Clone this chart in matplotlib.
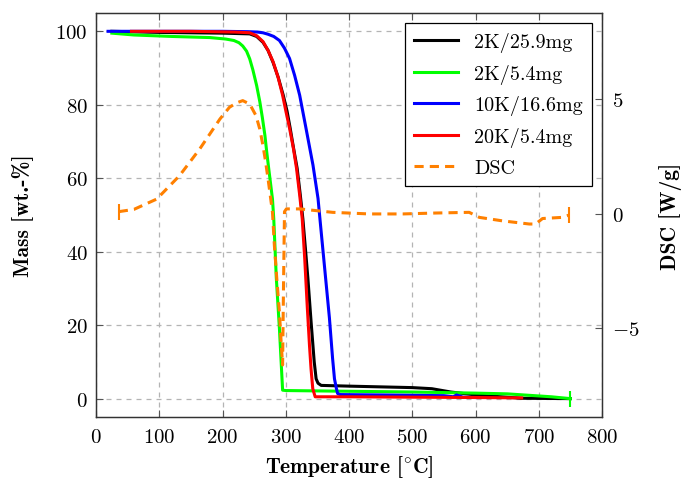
import matplotlib
matplotlib.use("Agg")
import matplotlib.pyplot as plt

plt.rcParams["font.family"] = "cmr10"
plt.rcParams["mathtext.fontset"] = "cm"
plt.rcParams["axes.formatter.use_mathtext"] = True
plt.rcParams["axes.unicode_minus"] = True

# ---------------------------------------------------------
# data (temperature in degC, mass in wt.-%)
# ---------------------------------------------------------
t_black = [25, 100, 200, 222, 243, 254, 264, 272, 280, 288, 296, 302, 307, 312, 318, 323, 327, 331, 335,
           340, 345, 348, 351, 356, 400, 450, 500, 531, 561, 600, 673, 750]
m_black = [100, 99.7, 99.5, 99.4, 99.3, 98.6, 97.0, 94.8, 91.5, 87.5, 82.6, 78.3, 73.6, 68.5, 62.7, 55.4,
           49, 41, 32.7, 21, 10, 5.4, 4.2, 3.6, 3.4, 3.2, 3.0, 2.7, 1.8, 1.0, 0.1, 0.0]

t_green = [25, 60, 120, 180, 205, 218, 226, 232, 238, 243, 248, 254, 259, 263, 267, 270, 273, 276, 279, 281,
           285, 290, 295, 300, 400, 500, 600, 650, 720, 750]
m_green = [99.5, 99.0, 98.6, 98.3, 97.9, 97.5, 96.9, 96.0, 94.6, 92.5, 89.5, 85.2, 80.8, 76.5, 71.7, 67,
           62.7, 58.5, 54.3, 49, 33, 19, 2.3, 2.2, 2.0, 1.8, 1.5, 1.3, 0.5, 0.0]

t_blue = [19, 100, 200, 240, 255, 264, 272, 281, 290, 298, 306, 314, 322, 332, 343, 351, 354, 359, 364,
          369, 374, 377, 380, 382, 386, 450, 550, 565, 570, 580, 600]
m_blue = [100, 100, 100, 99.9, 99.8, 99.6, 99.2, 98.6, 97.5, 95.4, 92.6, 88, 82.6, 73.6, 63.6, 54.5, 49,
          40, 31, 22, 11, 5.4, 2.8, 1.4, 1.1, 1.0, 0.8, 0.5, 1.0, 0.4, 0.3]

t_red = [56, 150, 220, 243, 254, 264, 272, 280, 288, 295, 300, 306, 312, 317, 322, 326, 330, 334,
         337.5, 340, 342.7, 346.5, 400, 500, 600, 673]
m_red = [100, 100, 99.8, 99.6, 98.8, 97.2, 94.8, 91.7, 87.4, 82.6, 78.4, 73.6, 68.2, 62.7, 55.4, 49,
         38, 25, 14.5, 8, 2.7, 0.5, 0.5, 0.4, 0.3, 0.2]

# DSC signal [W/g], right axis
t_dsc = [36, 60, 96, 132, 164, 196, 211, 222, 232, 243, 253, 259, 264, 268, 272, 276, 279, 282, 286,
         290, 293, 295, 296.5, 298, 301, 322, 374, 432, 485, 537, 590, 606, 642, 685, 695, 706, 737, 748]
q_dsc = [0.1, 0.2, 0.65, 1.67, 2.84, 4.15, 4.66, 4.85, 4.95, 4.8, 4.29, 3.7, 2.98, 2.3, 1.53, 0.7,
         0.07, -1.38, -2.9, -4.3, -5.75, -6.6, -3.0, 0.1, 0.22, 0.22, 0.07, 0.0, 0.0, 0.04, 0.07,
         -0.15, -0.3, -0.44, -0.44, -0.2, -0.15, -0.05]

labels = ["2K/25.9mg", "2K/5.4mg", "10K/16.6mg", "20K/5.4mg", "DSC"]

fig = plt.figure(figsize=(6.81, 4.81), dpi=100)
ax = fig.add_axes([0.141, 0.131, 0.743, 0.840])
ax2 = ax.twinx()

lw = 2.2
orange = "#ff8000"
h1, = ax.plot(t_black, m_black, color="black", lw=lw, label=labels[0])
h2, = ax.plot(t_green, m_green, color="#00ff00", lw=lw, label=labels[1])
h3, = ax.plot(t_blue, m_blue, color="blue", lw=lw, label=labels[2])
h4, = ax.plot(t_red, m_red, color="red", lw=lw, label=labels[3])
h5, = ax2.plot(t_dsc, q_dsc, color=orange, lw=2.2, ls=(0, (3, 2)), label=labels[4])

# little end marks like in the original export
ax.plot(t_green[-1:], m_green[-1:], ls="none", marker="|", ms=12, mew=1.5, color="#00ff00")
ax2.plot([t_dsc[0], t_dsc[-1]], [q_dsc[0], q_dsc[-1]], ls="none", marker="|", ms=12, mew=1.5, color=orange)

ax.set_xlim(0, 800)
ax.set_ylim(-5, 105)
ax2.set_ylim(-8.87, 8.78)
ax.set_xticks(range(0, 801, 100))
ax.set_yticks(range(0, 101, 20))
ax2.set_yticks([-5, 0, 5])

ax.grid(True, color="#b4b4b4", ls=(0, (4, 4)), lw=0.9)
ax.set_axisbelow(True)

for a in (ax, ax2):
    a.tick_params(direction="in", labelsize=15, length=5, width=0.8, color="#555555")
    for s in a.spines.values():
        s.set_linewidth(0.9)
        s.set_color("#333333")
ax.tick_params(top=True)
ax.tick_params(axis="x", pad=8)
ax.tick_params(axis="y", pad=6)
ax2.tick_params(axis="y", pad=7)

ax.set_xlabel("Temperature [$^{\\circ}$C]", fontsize=15.5, fontfamily="cmb10", labelpad=5)
ax.set_ylabel("Mass [wt.-%]", fontsize=15.5, fontfamily="cmb10", labelpad=15)
ax2.set_ylabel("DSC [W/g]", fontsize=15.5, fontfamily="cmb10", labelpad=14)

leg = ax2.legend([h1, h2, h3, h4, h5], labels, loc="upper right", fontsize=14.5,
                 frameon=True, fancybox=False, edgecolor="black", framealpha=1,
                 handlelength=2.2, borderaxespad=0.5, labelspacing=0.58, borderpad=0.45)
leg.get_frame().set_linewidth(0.9)

fig.savefig("out.png", dpi=100)
plt.close(fig)
